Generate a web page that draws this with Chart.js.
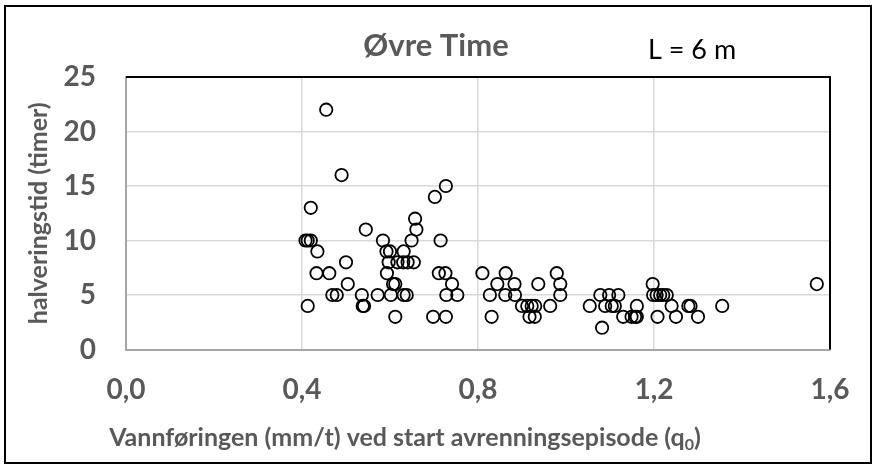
<!DOCTYPE html>
<html>
<head>
<meta charset="utf-8">
<script src="https://cdn.jsdelivr.net/npm/chart.js"></script>
<style>
html, body { margin: 0; padding: 0; background: #fff; }
canvas { display: block; }
</style>
</head>
<body>
<canvas id="scatter" width="877" height="469"></canvas>
<script>
var chartTitle = 'Øvre Time';
var sideNote = 'L = 6 m';
var xTitle = 'Vannføringen (mm/t) ved start avrenningsepisode (q';
var xTitleSub = '0';
var yTitle = 'halveringstid (timer)';
var xTicks = [0, 0.4, 0.8, 1.2, 1.6];
var yTicks = [0, 5, 10, 15, 20, 25];

// vannføring q0 (mm/t) og halveringstid (timer), ett par per episode
var q0 = [
    0.455, 0.49, 0.727, 0.702, 0.42, 0.657, 0.545, 0.66,
    0.408, 0.413, 0.42, 0.584, 0.649, 0.715,
    0.435, 0.592, 0.60, 0.631,
    0.50, 0.597, 0.617, 0.63, 0.64, 0.654,
    0.433, 0.462, 0.593, 0.711, 0.726, 0.81, 0.863, 0.979,
    0.504, 0.607, 0.612, 0.741, 0.844, 0.883, 0.937, 0.987, 1.197, 1.57,
    0.469, 0.479, 0.536, 0.572, 0.602, 0.631, 0.638, 0.728, 0.753, 0.827, 0.862,
    0.884, 0.987, 1.078, 1.098, 1.119, 1.198, 1.206, 1.214, 1.221, 1.229,
    0.413, 0.538, 0.541, 0.9, 0.912, 0.922, 0.93, 0.964, 1.054, 1.089, 1.104,
    1.111, 1.161, 1.24, 1.278, 1.283, 1.355,
    0.612, 0.698, 0.727, 0.831, 0.917, 0.929, 1.13, 1.149, 1.157, 1.161, 1.208,
    1.25, 1.30,
    1.082
];
var halfLife = [
    22, 16, 15, 14, 13, 12, 11, 11,
    10, 10, 10, 10, 10, 10,
    9, 9, 9, 9,
    8, 8, 8, 8, 8, 8,
    7, 7, 7, 7, 7, 7, 7, 7,
    6, 6, 6, 6, 6, 6, 6, 6, 6, 6,
    5, 5, 5, 5, 5, 5, 5, 5, 5, 5, 5,
    5, 5, 5, 5, 5, 5, 5, 5, 5, 5,
    4, 4, 4, 4, 4, 4, 4, 4, 4, 4, 4,
    4, 4, 4, 4, 4, 4,
    3, 3, 3, 3, 3, 3, 3, 3, 3, 3, 3,
    3, 3,
    2
];

var points = q0.map(function (q, i) { return { x: q, y: halfLife[i] }; });

var grey = '#595959';

// ramme, tittel, merknad og x-aksetittel med senket 0
var decorations = {
    id: 'decorations',
    afterDraw: function (chart) {
        var ctx = chart.ctx;
        var a = chart.chartArea;
        ctx.save();
        ctx.strokeStyle = '#000';
        ctx.lineWidth = 2;
        ctx.beginPath();
        ctx.moveTo(a.left, a.top);
        ctx.lineTo(a.right, a.top);
        ctx.lineTo(a.right, a.bottom);
        ctx.stroke();
        ctx.strokeRect(5, 6, chart.width - 11, chart.height - 12);

        ctx.textBaseline = 'middle';
        ctx.textAlign = 'center';
        ctx.fillStyle = grey;
        ctx.font = 'bold 31px Lato';
        ctx.fillText(chartTitle, 436, 46);

        ctx.textAlign = 'left';
        ctx.fillStyle = '#000';
        ctx.font = '27px Lato';
        ctx.fillText(sideNote, 648, 50);

        ctx.fillStyle = grey;
        ctx.font = 'bold 25px Lato';
        var w = ctx.measureText(xTitle).width;
        ctx.font = 'bold 16px Lato';
        var ws = ctx.measureText(xTitleSub).width;
        ctx.font = 'bold 25px Lato';
        var wc = ctx.measureText(')').width;
        var x0 = 405 - (w + ws + wc) / 2;
        ctx.fillText(xTitle, x0, 438);
        ctx.font = 'bold 16px Lato';
        ctx.fillText(xTitleSub, x0 + w, 445);
        ctx.font = 'bold 25px Lato';
        ctx.fillText(')', x0 + w + ws, 438);
        ctx.restore();
    }
};

var ctx = document.getElementById('scatter').getContext('2d');
var myChart = new Chart(ctx, {
    type: 'scatter',
    data: {
        datasets: [{
            label: chartTitle,
            data: points,
            pointRadius: 6.2,
            pointHoverRadius: 6.2,
            pointBorderWidth: 1.8,
            pointBorderColor: '#000',
            pointBackgroundColor: 'rgba(255,255,255,0)'
        }]
    },
    plugins: [decorations],
    options: {
        responsive: false,
        animation: false,
        layout: { padding: { top: 77, right: 47, bottom: 0, left: 0 } },
        plugins: {
            legend: { display: false },
            title: { display: false },
            tooltip: { enabled: false }
        },
        scales: {
            x: {
                type: 'linear',
                min: 0,
                max: 1.6,
                afterBuildTicks: function (s) { s.ticks = xTicks.map(function (v) { return { value: v }; }); },
                afterFit: function (s) { s.height = 119.5; },
                grid: { color: '#d9d9d9', lineWidth: 1.5, drawTicks: false },
                border: { color: '#a6a6a6', width: 2 },
                ticks: {
                    color: grey,
                    padding: 24,
                    maxRotation: 0,
                    font: { family: 'Lato', size: 28, weight: 'bold' },
                    callback: function (v) { return v.toFixed(1).replace('.', ','); }
                }
            },
            y: {
                min: 0,
                max: 25,
                afterBuildTicks: function (s) { s.ticks = yTicks.map(function (v) { return { value: v }; }); },
                afterFit: function (s) { s.width = 126; },
                grid: { color: '#d9d9d9', lineWidth: 1.5, drawTicks: false },
                border: { color: '#a6a6a6', width: 2 },
                ticks: {
                    color: grey,
                    padding: 30,
                    font: { family: 'Lato', size: 28, weight: 'bold' }
                },
                title: {
                    display: true,
                    text: yTitle,
                    color: grey,
                    padding: { top: 24, bottom: 0 },
                    font: { family: 'Lato', size: 25, weight: 'bold' }
                }
            }
        }
    }
});
</script>
</body>
</html>
